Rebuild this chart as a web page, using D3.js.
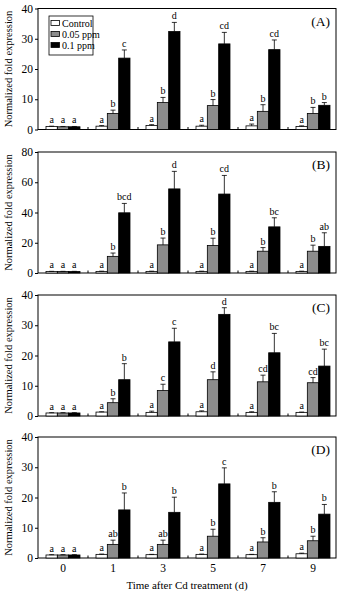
<!DOCTYPE html>
<html>
<head>
<meta charset="utf-8">
<script src="https://cdn.jsdelivr.net/npm/d3@7"></script>
<style>
  body { margin: 0; background: #fff; }
  svg, svg text { font-family: "Liberation Serif", "Times New Roman", Times, "DejaVu Serif", serif; }
</style>
</head>
<body>
<div id="chart"></div>
<script>
// days after Cd treatment, and the three treatments
var days = ["0", "1", "3", "5", "7", "9"];
var series = ["Control", "0.05 ppm", "0.1 ppm"];
var fills = ["#ffffff", "#8c8c8c", "#000000"];

// means per series (Control, 0.05 ppm, 0.1 ppm), one value per day
var meansA = [[1.0, 1.1, 1.3, 1.1, 1.2, 1.0],
              [0.9, 5.3, 8.9, 7.9, 6.0, 5.3],
              [0.9, 23.6, 32.4, 28.3, 26.4, 8.0]];
var errsA  = [[0.1, 0.2, 0.3, 0.3, 0.6, 0.2],
              [0.1, 1.1, 1.7, 2.0, 2.2, 2.0],
              [0.1, 2.7, 3.0, 3.8, 3.2, 0.9]];
var lettersA = [["a", "a", "a"], ["a", "b", "c"], ["a", "b", "d"],
                ["a", "b", "cd"], ["a", "b", "cd"], ["a", "b", "b"]];

var meansB = [[1.0, 1.0, 1.0, 1.0, 1.0, 1.0],
              [1.0, 11.0, 18.6, 18.2, 14.4, 14.4],
              [1.0, 39.8, 55.6, 52.2, 30.5, 17.6]];
var errsB  = [[0.1, 0.2, 0.2, 0.2, 0.2, 0.2],
              [0.1, 2.2, 4.5, 4.8, 2.4, 4.0],
              [0.1, 6.2, 11.6, 12.3, 6.0, 9.0]];
var lettersB = [["a", "a", "a"], ["a", "b", "bcd"], ["a", "b", "d"],
                ["a", "b", "cd"], ["a", "b", "bc"], ["a", "b", "ab"]];

var meansC = [[1.0, 1.3, 1.2, 1.4, 1.2, 1.2],
              [1.0, 4.4, 8.4, 12.0, 11.3, 11.0],
              [1.0, 12.0, 24.5, 33.6, 20.9, 16.5]];
var errsC  = [[0.1, 0.1, 0.4, 0.3, 0.2, 0.1],
              [0.1, 1.3, 2.1, 2.6, 2.2, 1.7],
              [0.1, 5.3, 4.5, 2.2, 6.4, 5.6]];
var lettersC = [["a", "a", "a"], ["a", "b", "b"], ["a", "c", "c"],
                ["a", "d", "d"], ["a", "cd", "bc"], ["a", "cd", "bc"]];

var meansD = [[1.0, 1.2, 1.1, 1.2, 1.1, 1.4],
              [1.0, 4.5, 4.5, 7.2, 5.3, 5.7],
              [1.0, 15.9, 15.1, 24.5, 18.4, 14.5]];
var errsD  = [[0.1, 0.1, 0.1, 0.1, 0.1, 0.2],
              [0.1, 1.4, 1.4, 2.3, 1.4, 1.5],
              [0.1, 5.6, 5.0, 5.3, 3.5, 3.2]];
var lettersD = [["a", "a", "a"], ["a", "ab", "b"], ["a", "ab", "b"],
                ["a", "b", "c"], ["a", "b", "b"], ["a", "b", "b"]];

var panels = [
  { tag: "(A)", means: meansA, errs: errsA, letters: lettersA, max: 40, ticks: [0, 10, 20, 30, 40] },
  { tag: "(B)", means: meansB, errs: errsB, letters: lettersB, max: 80, ticks: [0, 20, 40, 60, 80] },
  { tag: "(C)", means: meansC, errs: errsC, letters: lettersC, max: 40, ticks: [0, 10, 20, 30, 40] },
  { tag: "(D)", means: meansD, errs: errsD, letters: lettersD, max: 40, ticks: [0, 10, 20, 30, 40] }
];

var W = 338, H = 591;
var left = 38, right = 336;
var panelTop = [8.5, 152, 295, 437], panelH = 121;
var serif = '"Liberation Serif", "Times New Roman", Times, serif';

var svg = d3.select("#chart").append("svg")
  .attr("width", W).attr("height", H)
  .attr("font-family", serif);

var x = d3.scaleBand().domain(days).range([left, right + 2]);
var bw = x.bandwidth();
var xs = d3.scaleBand().domain(series).range([bw / 2 - 17, bw / 2 + 17]);

panels.forEach(function (p, pi) {
  var top = panelTop[pi];
  var y = d3.scaleLinear().domain([0, p.max]).range([top + panelH, top]);
  var g = svg.append("g");

  // frame
  g.append("rect")
    .attr("x", left).attr("y", top)
    .attr("width", right - left).attr("height", panelH)
    .attr("fill", "none").attr("stroke", "#000").attr("stroke-width", 1);

  // y axis
  var ya = g.append("g")
    .attr("transform", "translate(" + left + ",0)")
    .call(d3.axisLeft(y).tickValues(p.ticks).tickSize(3).tickPadding(2))
    .attr("font-family", serif);
  ya.select(".domain").remove();
  ya.selectAll("text").attr("font-size", 11.5);

  // small inward ticks between day groups
  g.selectAll(".sep").data(days.slice(1)).enter().append("line")
    .attr("x1", function (d) { return x(d); })
    .attr("x2", function (d) { return x(d); })
    .attr("y1", top + panelH).attr("y2", top + panelH - 2.5)
    .attr("stroke", "#000");

  var rows = [];
  days.forEach(function (d, di) {
    series.forEach(function (s, si) {
      rows.push({ day: d, s: s, si: si, v: p.means[si][di], e: p.errs[si][di], l: p.letters[di][si] });
    });
  });

  var bars = g.selectAll(".bar").data(rows).enter().append("g");

  bars.append("rect")
    .attr("x", function (d) { return x(d.day) + xs(d.s); })
    .attr("y", function (d) { return y(d.v); })
    .attr("width", xs.bandwidth())
    .attr("height", function (d) { return y(0) - y(d.v); })
    .attr("fill", function (d) { return fills[d.si]; })
    .attr("stroke", "#000").attr("stroke-width", 0.8);

  // upper error bars
  bars.append("line")
    .attr("x1", function (d) { return x(d.day) + xs(d.s) + xs.bandwidth() / 2; })
    .attr("x2", function (d) { return x(d.day) + xs(d.s) + xs.bandwidth() / 2; })
    .attr("y1", function (d) { return y(d.v); })
    .attr("y2", function (d) { return y(d.v + d.e); })
    .attr("stroke", "#000").attr("stroke-width", 0.8);
  bars.append("line")
    .attr("x1", function (d) { return x(d.day) + xs(d.s) + xs.bandwidth() / 2 - 2.5; })
    .attr("x2", function (d) { return x(d.day) + xs(d.s) + xs.bandwidth() / 2 + 2.5; })
    .attr("y1", function (d) { return y(d.v + d.e); })
    .attr("y2", function (d) { return y(d.v + d.e); })
    .attr("stroke", "#000").attr("stroke-width", 0.8);

  bars.append("text")
    .attr("x", function (d) { return x(d.day) + xs(d.s) + xs.bandwidth() / 2; })
    .attr("y", function (d) { return y(d.v + d.e) - 3; })
    .attr("text-anchor", "middle")
    .attr("font-size", 10)
    .text(function (d) { return d.l; });

  g.append("text")
    .attr("x", 330).attr("y", top + 17)
    .attr("text-anchor", "end").attr("font-size", 13.5)
    .text(p.tag);

  g.append("text")
    .attr("transform", "translate(12," + (top + panelH / 2) + ") rotate(-90)")
    .attr("text-anchor", "middle").attr("font-size", 10.5)
    .text("Normalized fold expression");

  if (pi === 3) {
    var xa = g.append("g")
      .attr("transform", "translate(0," + (top + panelH) + ")")
      .call(d3.axisBottom(x).tickSize(0).tickPadding(6))
      .attr("font-family", serif);
    xa.select(".domain").remove();
    xa.selectAll("text").attr("font-size", 11.5);
  }

  if (pi === 0) {
    var lg = g.append("g").attr("transform", "translate(49,16)");
    lg.append("rect").attr("width", 44).attr("height", 39)
      .attr("fill", "#fff").attr("stroke", "#000").attr("stroke-width", 0.8);
    series.forEach(function (s, i) {
      lg.append("rect")
        .attr("x", 2).attr("y", 4.5 + i * 11)
        .attr("width", 8.5).attr("height", 5)
        .attr("fill", fills[i]).attr("stroke", "#000").attr("stroke-width", 0.8);
      lg.append("text")
        .attr("x", 13).attr("y", 10.5 + i * 11)
        .attr("font-size", 10)
        .text(s);
    });
  }
});

svg.append("text")
  .attr("x", 187).attr("y", 589)
  .attr("text-anchor", "middle").attr("font-size", 11)
  .text("Time after Cd treatment (d)");
</script>
</body>
</html>
